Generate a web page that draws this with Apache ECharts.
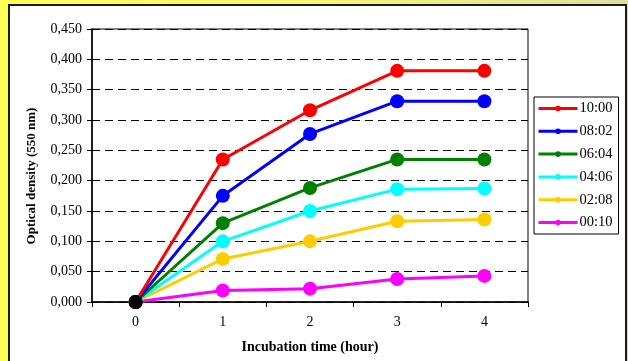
<!DOCTYPE html>
<html>
<head>
<meta charset="utf-8">
<script src="https://cdn.jsdelivr.net/npm/echarts@6/dist/echarts.min.js"></script>
<style>
html,body{margin:0;padding:0;background:#fff;}
#chart{width:628px;height:361px;}
</style>
</head>
<body>
<div id="chart"></div>
<script>
const categories = ['0', '1', '2', '3', '4'];
const seriesNames = ['10:00', '08:02', '06:04', '04:06', '02:08', '00:10'];
const seriesColors = ['#ff0000', '#0000ff', '#008000', '#00ffff', '#ffcc00', '#ff00ff'];
const s1000 = [0, 0.235, 0.316, 0.381, 0.381];
const s0802 = [0, 0.175, 0.277, 0.331, 0.331];
const s0604 = [0, 0.130, 0.188, 0.235, 0.235];
const s0406 = [0, 0.100, 0.150, 0.186, 0.187];
const s0208 = [0, 0.071, 0.100, 0.133, 0.136];
const s0010 = [0, 0.019, 0.022, 0.038, 0.043];
const yTicks = { min: 0, max: 0.45, interval: 0.05 };

const allData = [s1000, s0802, s0604, s0406, s0208, s0010];
const serif = "'Liberation Serif','Times New Roman',serif";

const series = seriesNames.map((name, i) => ({
  name: name,
  type: 'line',
  data: allData[i],
  symbol: 'circle',
  symbolSize: 14,
  lineStyle: { width: 3, color: seriesColors[i] },
  itemStyle: { color: seriesColors[i] },
  z: 10 - i
})).reverse();

series.push({
  name: 'origin',
  type: 'line',
  data: [s1000[0]],
  symbol: 'circle',
  symbolSize: 14,
  itemStyle: { color: '#000000' },
  z: 20
});

const chart = echarts.init(document.getElementById('chart'), null, { renderer: 'canvas' });
chart.setOption({
  animation: false,
  backgroundColor: {
    type: 'linear', x: 0, y: 0, x2: 1, y2: 0,
    colorStops: [
      { offset: 0, color: '#ffff55' },
      { offset: 0.5, color: '#f6f670' },
      { offset: 1, color: '#dce0a2' }
    ]
  },
  graphic: [
    {
      type: 'rect', z: -10, silent: true,
      shape: { x: 9, y: 5, width: 617, height: 362 },
      style: { fill: '#ffffff', stroke: '#1a1a1a', lineWidth: 2 }
    },
    {
      type: 'text', z: 10,
      x: 32, y: 176, rotation: Math.PI / 2,
      style: {
        text: 'Optical density (550 nm)',
        font: 'bold 13px ' + serif,
        fill: '#000',
        align: 'center',
        verticalAlign: 'middle'
      }
    }
  ],
  grid: {
    left: 92, top: 29, right: 100, bottom: 59,
    show: true, borderColor: '#000', borderWidth: 1, backgroundColor: 'transparent'
  },
  legend: {
    data: seriesNames,
    orient: 'vertical',
    left: 534, top: 97,
    width: 85,
    padding: [4, 6, 4, 3],
    itemWidth: 39,
    itemHeight: 7,
    itemGap: 7.8,
    borderColor: '#000',
    borderWidth: 1,
    backgroundColor: '#fff',
    textStyle: { fontFamily: serif, fontSize: 14.5, color: '#000', padding: [0, 0, 0, -3] },
    itemStyle: { borderWidth: 0 },
    lineStyle: { width: 3 }
  },
  xAxis: {
    type: 'category',
    data: categories,
    boundaryGap: true,
    name: 'Incubation time (hour)',
    nameLocation: 'middle',
    nameGap: 38,
    nameTextStyle: { fontFamily: serif, fontSize: 14, fontWeight: 'bold', color: '#000' },
    axisLine: { lineStyle: { color: '#000', width: 1.5 } },
    axisTick: { show: true, length: 5, lineStyle: { color: '#000' } },
    axisLabel: { fontFamily: serif, fontSize: 14, color: '#000', margin: 13 },
    splitLine: { show: false }
  },
  yAxis: {
    type: 'value',
    min: yTicks.min, max: yTicks.max, interval: yTicks.interval,
    axisLine: { show: true, lineStyle: { color: '#000', width: 1.5 } },
    axisTick: { show: true, length: 5, lineStyle: { color: '#000' } },
    axisLabel: {
      fontFamily: serif, fontSize: 14, color: '#000', margin: 10,
      formatter: v => v.toFixed(3).replace('.', ',')
    },
    splitLine: { show: true, lineStyle: { color: '#000', type: [8, 5], width: 1 } }
  },
  series: series
});
</script>
</body>
</html>
